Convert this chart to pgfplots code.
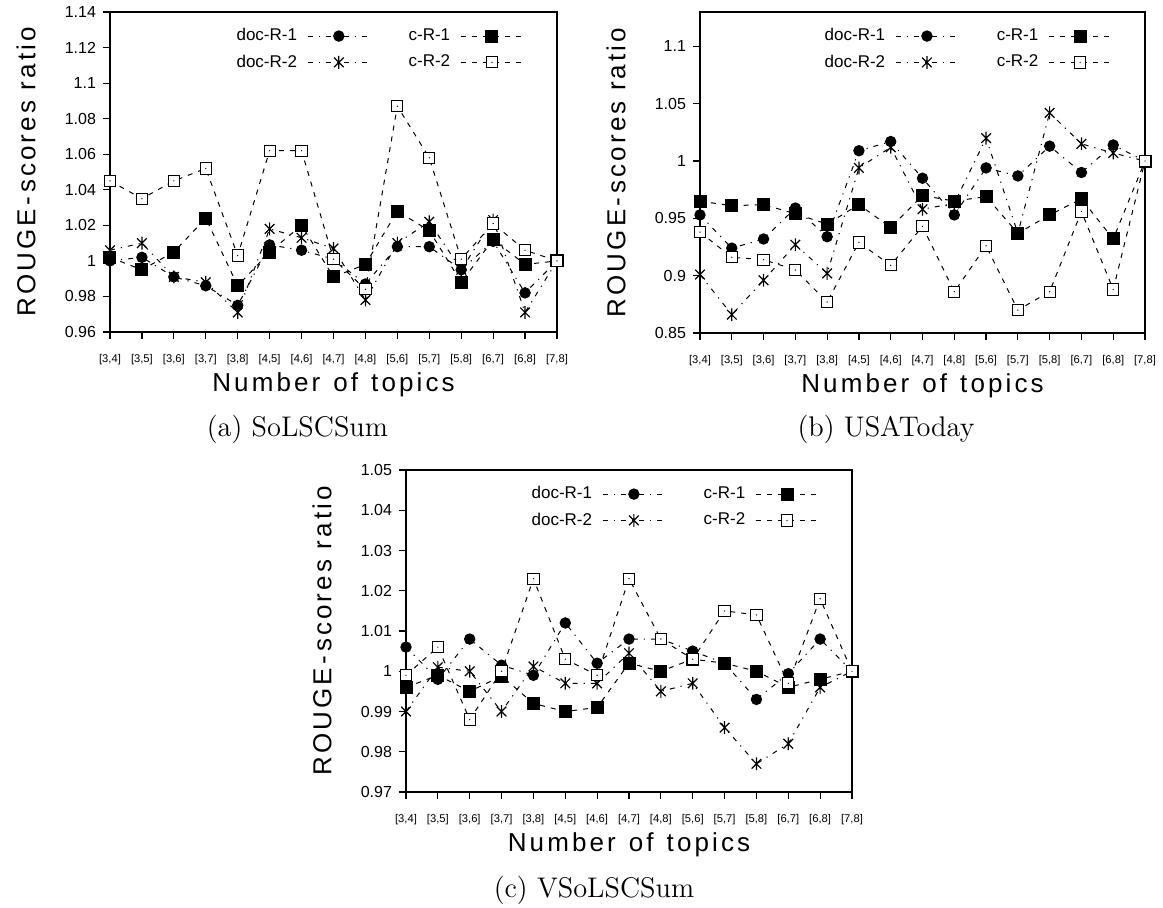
\documentclass[border=0pt]{standalone}
\usepackage{pgfplots}
\pgfplotsset{compat=1.18}
\usepackage{pgfplotstable}
\usepackage{fontspec}
\newfontfamily\arial{Liberation Sans}

\pgfdeclareplotmark{sqdot}{%
  \pgfpathrectangle{\pgfqpoint{-\pgfplotmarksize}{-\pgfplotmarksize}}{\pgfqpoint{2\pgfplotmarksize}{2\pgfplotmarksize}}%
  \pgfusepathqfillstroke
  \begin{pgfscope}%
  \pgfsetfillcolor{black}%
  \pgfpathcircle{\pgfpointorigin}{0.35pt}%
  \pgfusepathqfill
  \end{pgfscope}%
}
\pgfdeclareplotmark{ast}{%
  \pgfpathmoveto{\pgfqpoint{0pt}{\pgfplotmarksize}}%
  \pgfpathlineto{\pgfqpoint{0pt}{-\pgfplotmarksize}}%
  \pgfpathmoveto{\pgfqpoint{-0.75\pgfplotmarksize}{0.75\pgfplotmarksize}}%
  \pgfpathlineto{\pgfqpoint{0.75\pgfplotmarksize}{-0.75\pgfplotmarksize}}%
  \pgfpathmoveto{\pgfqpoint{-0.75\pgfplotmarksize}{-0.75\pgfplotmarksize}}%
  \pgfpathlineto{\pgfqpoint{0.75\pgfplotmarksize}{0.75\pgfplotmarksize}}%
  \pgfusepathqstroke
}

% columns: x, doc-R-1, doc-R-2, c-R-1, c-R-2
\pgfplotstableread{
x d1 d2 c1 c2
0 1.000 1.006 1.002 1.045
1 1.002 1.010 0.995 1.035
2 0.991 0.991 1.005 1.045
3 0.986 0.988 1.024 1.052
4 0.975 0.971 0.986 1.003
5 1.009 1.018 1.005 1.062
6 1.006 1.013 1.020 1.062
7 1.001 1.007 0.991 1.001
8 0.987 0.978 0.998 0.984
9 1.008 1.010 1.028 1.087
10 1.008 1.022 1.017 1.058
11 0.995 0.995 0.988 1.001
12 1.011 1.023 1.012 1.021
13 0.982 0.971 0.998 1.006
14 1.000 1.000 1.000 1.000
}\tabA
\pgfplotstableread{
x d1 d2 c1 c2
0 0.953 0.901 0.965 0.938
1 0.924 0.866 0.961 0.916
2 0.932 0.896 0.962 0.914
3 0.959 0.927 0.954 0.905
4 0.934 0.902 0.945 0.877
5 1.009 0.994 0.962 0.929
6 1.017 1.012 0.942 0.909
7 0.985 0.958 0.970 0.943
8 0.953 0.963 0.965 0.886
9 0.994 1.020 0.969 0.926
10 0.987 0.937 0.937 0.870
11 1.013 1.042 0.953 0.886
12 0.990 1.015 0.967 0.956
13 1.014 1.007 0.932 0.888
14 1.000 1.000 1.000 1.000
}\tabB
\pgfplotstableread{
x d1 d2 c1 c2
0 1.006 0.990 0.996 0.999
1 0.998 1.001 0.999 1.006
2 1.008 1.000 0.995 0.988
3 1.0015 0.990 0.9988 1.000
4 0.999 1.0012 0.992 1.023
5 1.012 0.997 0.990 1.003
6 1.002 0.997 0.991 0.999
7 1.008 1.0045 1.002 1.023
8 1.008 0.995 1.000 1.008
9 1.005 0.997 1.003 1.003
10 1.002 0.986 1.002 1.015
11 0.993 0.977 1.000 1.014
12 0.9994 0.982 0.996 0.997
13 1.008 0.996 0.998 1.018
14 1.000 1.000 1.000 1.000
}\tabC

\pgfplotsset{
  panel/.style={
    scale only axis, clip=false,
    xmin=0, xmax=14, xtick={0,...,14},
    xticklabels={{[3,4]},{[3,5]},{[3,6]},{[3,7]},{[3,8]},{[4,5]},{[4,6]},{[4,7]},{[4,8]},{[5,6]},{[5,7]},{[5,8]},{[6,7]},{[6,8]},{[7,8]}},
    tick align=outside, tick pos=left, major tick length=3.5pt,
    axis line style={line width=0.6pt}, tick style={line width=0.6pt, black},
    yticklabel style={font=\arial\fontsize{8}{9}\selectfont},
    xticklabel style={font=\arial\fontsize{5.6}{6}\selectfont, yshift=-4pt},
    xlabel={\arial\fontsize{13}{15}\selectfont\addfontfeature{LetterSpace=12}Number\hspace{0.5em}of\hspace{0.5em}topics},
    xlabel style={at={([yshift=-26.5pt]axis description cs:0.5,0)}, anchor=center},
    ylabel={\arial\fontsize{13}{15}\selectfont\addfontfeature{LetterSpace=12}ROUGE-\,scores ratio},
    ylabel style={at={([xshift=-42pt]axis description cs:0,0.5)}, anchor=center, rotate=0},
    legend columns=2, transpose legend, legend plot pos=right, legend cell align=left,
    legend image code/.code={\draw[mark repeat=2,mark phase=2,##1] plot coordinates {(0cm,0cm) (0.55cm,0cm) (1.1cm,0cm)};},
    legend style={draw=none, fill=none, font=\arial\fontsize{8.5}{10}\selectfont,
      at={(0.94,0.975)}, anchor=north east, row sep=1.5pt, column sep=0pt,
      /tikz/column 1/.style={column sep=3pt},
      /tikz/column 2/.style={column sep=17pt},
      /tikz/column 3/.style={column sep=3pt}},
  },
  dR1/.style={black, line width=0.5pt, dash pattern=on 2.5pt off 3pt on 0.6pt off 3pt,
    mark=*, mark size=2.6pt, mark options={solid, fill=black}},
  dR2/.style={black, line width=0.5pt, dash pattern=on 2.5pt off 3pt on 0.6pt off 3pt,
    mark=ast, mark size=3.2pt, mark options={solid, line width=0.6pt}},
  cR1/.style={black, line width=0.5pt, dash pattern=on 2.5pt off 3pt,
    mark=square*, mark size=3pt, mark options={solid, fill=black}},
  cR2/.style={black, line width=0.5pt, dash pattern=on 2.5pt off 3pt,
    mark=sqdot, mark size=2.8pt, mark options={solid, fill=white, line width=0.5pt}},
}

\begin{document}
\begin{tikzpicture}
\path[use as bounding box] (0,0) rectangle (581.5pt,453.5pt);

\begin{axis}[panel, at={(55pt,287.5pt)}, anchor=south west,
  width=223.5pt, height=160pt, ymin=0.96, ymax=1.14,
  ytick={0.96,0.98,1,1.02,1.04,1.06,1.08,1.1,1.12,1.14},
  yticklabels={0.96,0.98,1,1.02,1.04,1.06,1.08,1.1,1.12,1.14}]
\addplot[dR1] table[x=x,y=d1] {\tabA}; \addlegendentry{doc-R-1}
\addplot[dR2] table[x=x,y=d2] {\tabA}; \addlegendentry{doc-R-2}
\addplot[cR1] table[x=x,y=c1] {\tabA}; \addlegendentry{c-R-1}
\addplot[cR2] table[x=x,y=c2] {\tabA}; \addlegendentry{c-R-2}
\end{axis}

\begin{axis}[panel, at={(350pt,287pt)}, anchor=south west,
  width=222.5pt, height=160.5pt, ymin=0.85, ymax=1.13,
  ytick={0.85,0.9,0.95,1,1.05,1.1},
  yticklabels={0.85,0.9,0.95,1,1.05,1.1}]
\addplot[dR1] table[x=x,y=d1] {\tabB}; \addlegendentry{doc-R-1}
\addplot[dR2] table[x=x,y=d2] {\tabB}; \addlegendentry{doc-R-2}
\addplot[cR1] table[x=x,y=c1] {\tabB}; \addlegendentry{c-R-1}
\addplot[cR2] table[x=x,y=c2] {\tabB}; \addlegendentry{c-R-2}
\end{axis}

\begin{axis}[panel, at={(203pt,57.5pt)}, anchor=south west,
  width=223pt, height=161pt, ymin=0.97, ymax=1.05,
  ytick={0.97,0.98,0.99,1,1.01,1.02,1.03,1.04,1.05},
  yticklabels={0.97,0.98,0.99,1,1.01,1.02,1.03,1.04,1.05}]
\addplot[dR1] table[x=x,y=d1] {\tabC}; \addlegendentry{doc-R-1}
\addplot[dR2] table[x=x,y=d2] {\tabC}; \addlegendentry{doc-R-2}
\addplot[cR1] table[x=x,y=c1] {\tabC}; \addlegendentry{c-R-1}
\addplot[cR2] table[x=x,y=c2] {\tabC}; \addlegendentry{c-R-2}
\end{axis}

\node[font=\fontsize{14.2}{16}\selectfont] at (148.75pt,239pt) {(a) SoLSCSum};
\node[font=\fontsize{14.2}{16}\selectfont] at (443pt,239pt) {(b) USAToday};
\node[font=\fontsize{14.2}{16}\selectfont] at (297pt,8.5pt) {(c) VSoLSCSum};
\end{tikzpicture}
\end{document}
